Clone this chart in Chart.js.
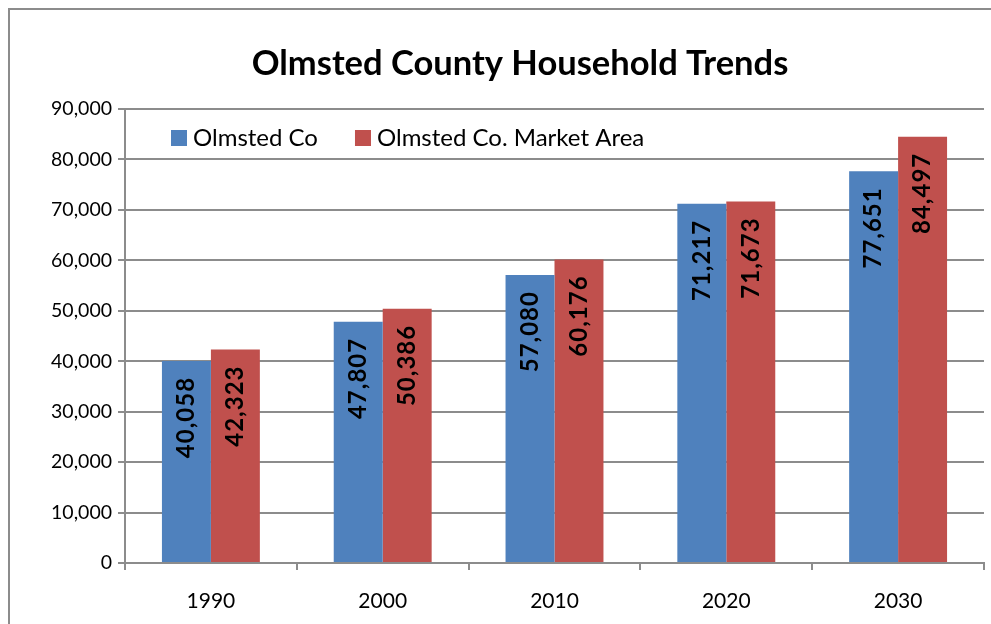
<!DOCTYPE html>
<html>
<head>
<meta charset="utf-8">
<script src="https://cdn.jsdelivr.net/npm/chart.js@4.4.1/dist/chart.umd.min.js"></script>
<style>
  html, body { margin: 0; padding: 0; overflow: hidden; background: #fff; }
  #wrap { position: absolute; left: 0; top: 0; width: 1040px; height: 624px; }
  #frame { position: absolute; left: 8px; top: 8px; width: 1100px; height: 700px;
           border: 2px solid #8c8c8c; pointer-events: none; }
</style>
</head>
<body>
<div id="wrap"><canvas id="householdChart"></canvas></div>
<div id="frame"></div>
<script>
const years = ["1990", "2000", "2010", "2020", "2030"];
const olmstedCo = [40058, 47807, 57080, 71217, 77651];
const marketArea = [42323, 50386, 60176, 71673, 84497];
const seriesNames = ["Olmsted Co", "Olmsted Co. Market Area"];
const seriesColors = ["#4F81BD", "#C0504D"];
const chartTitle = "Olmsted County Household Trends";
const yMin = 0, yMax = 90000, yStep = 10000;

const gridGray = "#8c8c8c";
Chart.defaults.font.family = "Lato";
Chart.defaults.color = "#000";

/* value labels, rotated, inside top of each bar */
const barLabels = {
  id: "barLabels",
  afterDatasetsDraw(chart) {
    const ctx = chart.ctx;
    ctx.save();
    ctx.font = "bold 24px Lato";
    ctx.letterSpacing = "1px";
    ctx.fillStyle = "#000";
    ctx.textAlign = "right";
    ctx.textBaseline = "middle";
    chart.data.datasets.forEach((ds, i) => {
      chart.getDatasetMeta(i).data.forEach((bar, j) => {
        ctx.save();
        ctx.translate(bar.x, bar.y + 16);
        ctx.rotate(-Math.PI / 2);
        ctx.fillText(ds.data[j].toLocaleString("en-US"), 0, 0);
        ctx.restore();
      });
    });
    ctx.restore();
  }
};

/* legend sitting inside the plot, top-left, plus the title over the whole frame */
const insideLegend = {
  id: "insideLegend",
  afterDraw(chart) {
    const ctx = chart.ctx;
    const area = chart.chartArea;
    ctx.save();
    ctx.font = "bold 34.5px Lato";
    ctx.fillStyle = "#000";
    ctx.textAlign = "center";
    ctx.textBaseline = "middle";
    ctx.fillText(chartTitle, 520, 64);

    ctx.font = "24px Lato";
    ctx.textAlign = "left";
    let x = area.left + 46;
    const y = area.top + 29;
    chart.data.datasets.forEach(ds => {
      ctx.fillStyle = ds.backgroundColor;
      ctx.fillRect(x, y - 8, 16, 16);
      ctx.fillStyle = "#000";
      ctx.fillText(ds.label, x + 22, y);
      x += 22 + ctx.measureText(ds.label).width + 37;
    });
    ctx.restore();
  }
};

new Chart(document.getElementById("householdChart"), {
  type: "bar",
  data: {
    labels: years,
    datasets: [
      { label: seriesNames[0], data: olmstedCo, backgroundColor: seriesColors[0] },
      { label: seriesNames[1], data: marketArea, backgroundColor: seriesColors[1] }
    ]
  },
  options: {
    responsive: true,
    maintainAspectRatio: false,
    animation: false,
    categoryPercentage: 0.57,
    barPercentage: 1.0,
    layout: { padding: { top: 109, left: 0, right: 56, bottom: 0 } },
    plugins: {
      legend: { display: false },
      tooltip: { enabled: false },
      title: { display: false }
    },
    scales: {
      x: {
        afterFit(scale) { scale.height = 61; },
        grid: { offset: true, drawOnChartArea: false, drawTicks: true, tickLength: 7, color: gridGray, lineWidth: 2 },
        border: { color: gridGray, width: 2 },
        ticks: { font: { size: 21 }, padding: 19 }
      },
      y: {
        min: yMin,
        max: yMax,
        afterFit(scale) { scale.width = 125; },
        grid: { color: gridGray, lineWidth: 2, tickLength: 7 },
        border: { color: gridGray, width: 2 },
        ticks: {
          stepSize: yStep,
          font: { size: 19.5 },
          padding: 6,
          callback: v => v.toLocaleString("en-US")
        }
      }
    }
  },
  plugins: [barLabels, insideLegend]
});
</script>
</body>
</html>
